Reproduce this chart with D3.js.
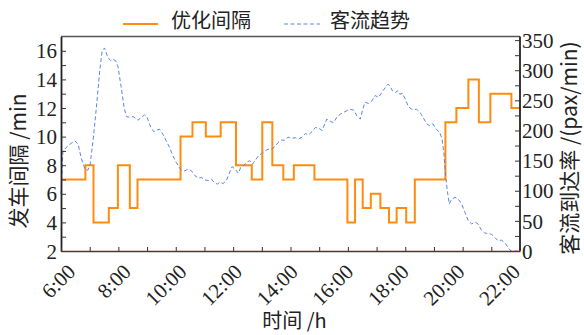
<!DOCTYPE html>
<html>
<head>
<meta charset="utf-8">
<script src="https://cdn.jsdelivr.net/npm/d3@7"></script>
<style>
  html, body { margin: 0; padding: 0; background: #fff; }
  svg { display: block; }
  .num { font-family: "Liberation Serif", "DejaVu Serif", serif; font-size: 21px; fill: #222; }
  .cjk { font-family: "Noto Sans CJK SC", sans-serif; fill: #222; }
</style>
</head>
<body>
<svg id="chart" width="584" height="335"></svg>
<script>
// Optimized headway steps: start time (minutes of day) and headway (min)
const stepStart = [360, 411, 428, 460, 479, 504, 520, 610, 635, 663, 694, 726, 759, 781, 802, 825, 847, 890, 959, 975, 991, 1008, 1028, 1046, 1062, 1082, 1100, 1164, 1187, 1212, 1234, 1258, 1302];
const stepHeadway = [7, 8, 4, 5, 8, 5, 7, 10, 11, 10, 11, 8, 7, 11, 8, 7, 8, 7, 4, 7, 5, 6, 5, 4, 5, 4, 7, 11, 12, 14, 11, 13, 12];
const dayEnd = 1320;

// Passenger arrival rate (pax/min) over the day, minutes after 6:00
const flowOffset = [0,4,15,29,36,42,50,56,61,67,74,81,86,91,98,104,109,114,119,126,132,137,144,151,161,168,175,180,188,194,201,206,213,220,227,234,241,248,252,259,266,273,280,287,294,301,308,315,320,327,332,339,346,353,358,364,371,376,381,388,395,400,406,413,420,427,433,440,447,454,461,468,475,482,490,497,504,511,518,525,532,539,546,553,556,563,570,577,584,591,598,605,612,619,626,631,636,643,650,657,664,671,678,684,688,693,699,705,709,714,720,727,734,744,751,757,765,771,778,785,792,797,801,804,808,812,817,824,831,838,845,852,859,866,872,880,886,893,900,907,914,921,928,935,941,960];
const flowRate = [95,166,175,183,177,155,136,134,144,183,238,299,332,337,321,316,318,316,307,271,238,223,222,223,217,222,226,222,205,198,201,202,194,183,172,158,147,138,134,133,136,133,125,121,122,118,117,119,114,111,114,112,117,131,140,136,129,139,141,147,150,144,150,158,162,166,169,169,173,180,184,184,189,187,188,186,189,195,193,198,205,204,200,213,219,215,213,222,227,230,233,235,234,224,219,235,247,245,249,258,255,263,271,277,274,266,263,266,260,262,252,239,235,235,230,222,211,208,211,202,197,186,161,128,100,78,86,89,86,78,64,50,45,48,45,34,30,29,28,23,17,18,14,6,0,0];

// Axis ticks and labels
const hourTicks = d3.range(6, 23);           // every hour
const hourLabels = d3.range(6, 23, 2);       // labelled every two hours
const headwayTicks = d3.range(2, 17);
const headwayLabels = d3.range(2, 17, 2);
const rateTicks = d3.range(0, 351, 25);
const rateLabels = d3.range(0, 351, 50);

const legendNames = ["优化间隔", "客流趋势"];
const xTitle = "时间 /h";
const yLeftTitle = "发车间隔 /min";
const yRightTitle = "客流到达率 /(pax/min)";

const colOrange = "#ff8c0f";
const colBlue = "#5b86e3";

const svg = d3.select("#chart");
const plot = { left: 61, right: 520, top: 36.5, bottom: 251 };

const x = d3.scaleLinear().domain([360, 1320]).range([plot.left, plot.right]);
const yL = d3.scaleLinear().domain([2, 17]).range([plot.bottom, plot.top]);
const yR = d3.scaleLinear().domain([0, 356]).range([plot.bottom, plot.top]);

const fmtClock = h => h + ":00";

// Flow curve (dashed)
const flowData = flowOffset.map((m, i) => ({ t: 360 + m, v: flowRate[i] }));
const flowLine = d3.line().x(d => x(d.t)).y(d => yR(d.v));

// Headway step curve
const stepData = stepStart.map((t, i) => ({ t, v: stepHeadway[i] }));
stepData.push({ t: dayEnd, v: stepHeadway[stepHeadway.length - 1] });
const stepLine = d3.line().x(d => x(d.t)).y(d => yL(d.v)).curve(d3.curveStepAfter);

svg.append("path").datum(stepData)
  .attr("d", stepLine)
  .attr("fill", "none")
  .attr("stroke", colOrange)
  .attr("stroke-width", 2)
  .attr("stroke-linejoin", "miter");

svg.append("path").datum(flowData)
  .attr("d", flowLine)
  .attr("fill", "none")
  .attr("stroke", colBlue)
  .attr("stroke-width", 1)
  .attr("stroke-dasharray", "4,2.5");

// Frame
svg.append("line").attr("x1", plot.left).attr("x2", plot.right)
  .attr("y1", plot.top).attr("y2", plot.top)
  .attr("stroke", "#555").attr("stroke-width", 1.5);

// Left axis (ticks inward)
const axL = d3.axisLeft(yL).tickValues(headwayTicks).tickSizeInner(-5).tickSizeOuter(0)
  .tickFormat(d => headwayLabels.includes(d) ? d : "");
const gL = svg.append("g").attr("transform", `translate(${plot.left},0)`).call(axL);
gL.select(".domain").attr("stroke", "#222").attr("stroke-width", 1.8);
gL.selectAll(".tick line").attr("stroke", "#333");
gL.selectAll(".tick text").attr("class", "num").attr("x", -4).attr("dy", "0.34em")
  .attr("font-family", null).attr("font-size", null).attr("fill", null);

// Right axis (ticks inward)
const axR = d3.axisRight(yR).tickValues(rateTicks).tickSizeInner(-5).tickSizeOuter(0)
  .tickFormat(d => rateLabels.includes(d) ? d : "");
const gR = svg.append("g").attr("transform", `translate(${plot.right},0)`).call(axR);
gR.select(".domain").attr("stroke", "#222").attr("stroke-width", 1.8)
  .attr("d", `M0,${plot.top}V${plot.bottom}`);
gR.selectAll(".tick line").attr("stroke", "#333");
gR.selectAll(".tick text").attr("class", "num").attr("x", 2).attr("dy", "0.34em")
  .attr("font-family", null).attr("font-size", null).attr("fill", null);

// Bottom axis (ticks inward, rotated clock labels)
const axB = d3.axisBottom(x).tickValues(hourTicks.map(h => h * 60)).tickSizeInner(-4).tickSizeOuter(0)
  .tickFormat("");
const gB = svg.append("g").attr("transform", `translate(0,${plot.bottom})`).call(axB);
gB.select(".domain").attr("stroke", "#6a2c2c").attr("stroke-width", 1.5);
gB.selectAll(".tick line").attr("stroke", "#333");

svg.append("g").selectAll("text").data(hourLabels).join("text")
  .attr("class", "num")
  .attr("text-anchor", "end")
  .attr("transform", h => `translate(${x(h * 60) + 15.7 - (h - 6) * 0.89},${plot.bottom + 22}) rotate(-45)`)
  .text(fmtClock);

// Axis titles
svg.append("text").attr("class", "cjk")
  .attr("x", (plot.left + plot.right) / 2 + 4).attr("y", 328)
  .attr("text-anchor", "middle").attr("font-size", 20)
  .text(xTitle);

svg.append("text").attr("class", "cjk")
  .attr("transform", `translate(26,161) rotate(-90)`)
  .attr("text-anchor", "middle").attr("font-size", 21)
  .text(yLeftTitle);

svg.append("text").attr("class", "cjk")
  .attr("transform", `translate(577,148) rotate(-90)`)
  .attr("text-anchor", "middle").attr("font-size", 21)
  .text(yRightTitle);

// Legend
const legend = svg.append("g");
legend.append("line").attr("x1", 123).attr("x2", 158).attr("y1", 24).attr("y2", 24)
  .attr("stroke", colOrange).attr("stroke-width", 2);
legend.append("text").attr("class", "cjk").attr("x", 171).attr("y", 28)
  .attr("font-size", 20).text(legendNames[0]);
legend.append("line").attr("x1", 284).attr("x2", 320).attr("y1", 24).attr("y2", 24)
  .attr("stroke", colBlue).attr("stroke-width", 1).attr("stroke-dasharray", "4,2.5");
legend.append("text").attr("class", "cjk").attr("x", 330).attr("y", 28)
  .attr("font-size", 20).text(legendNames[1]);
</script>
</body>
</html>
